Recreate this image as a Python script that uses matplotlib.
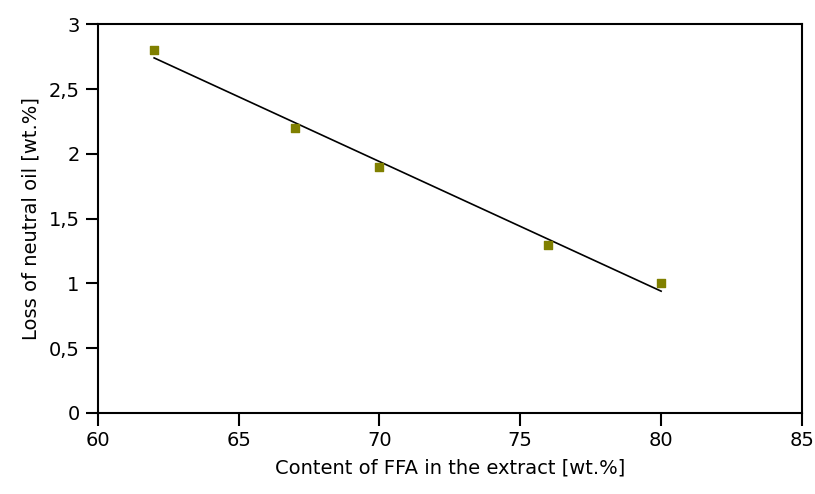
import numpy as np
import matplotlib.pyplot as plt
from matplotlib.ticker import FuncFormatter

ffa = np.array([62, 67, 70, 76, 80])
loss = np.array([2.8, 2.2, 1.9, 1.3, 1.0])
x_ticks = [60, 65, 70, 75, 80, 85]
y_ticks = [0, 0.5, 1, 1.5, 2, 2.5, 3]

fig = plt.figure(figsize=(8.15, 4.94), dpi=100)
ax = fig.add_axes([0.120, 0.164, 0.864, 0.787])

# linear trend line over the data range
b, a = np.polyfit(ffa, loss, 1)
xf = np.array([ffa.min(), ffa.max()])
ax.plot(xf, a + b * xf, color='black', lw=1.2, zorder=2)
ax.scatter(ffa, loss, marker='s', s=40, color='#808000', zorder=3)

ax.set_xlim(60, 85)
ax.set_ylim(0, 3)
ax.set_xticks(x_ticks)
ax.set_yticks(y_ticks)

def comma(v, pos):
    s = ('%g' % v)
    return s.replace('.', ',')

ax.yaxis.set_major_formatter(FuncFormatter(comma))
ax.tick_params(direction='out', length=9, width=1.5, labelsize=14, colors='black', pad=4)
for sp in ax.spines.values():
    sp.set_linewidth(1.5)

ax.set_xlabel('Content of FFA in the extract [wt.%]', fontsize=14, labelpad=6)
ax.set_ylabel('Loss of neutral oil [wt.%]', fontsize=14, labelpad=6)

fig.savefig('out.png', dpi=100)
